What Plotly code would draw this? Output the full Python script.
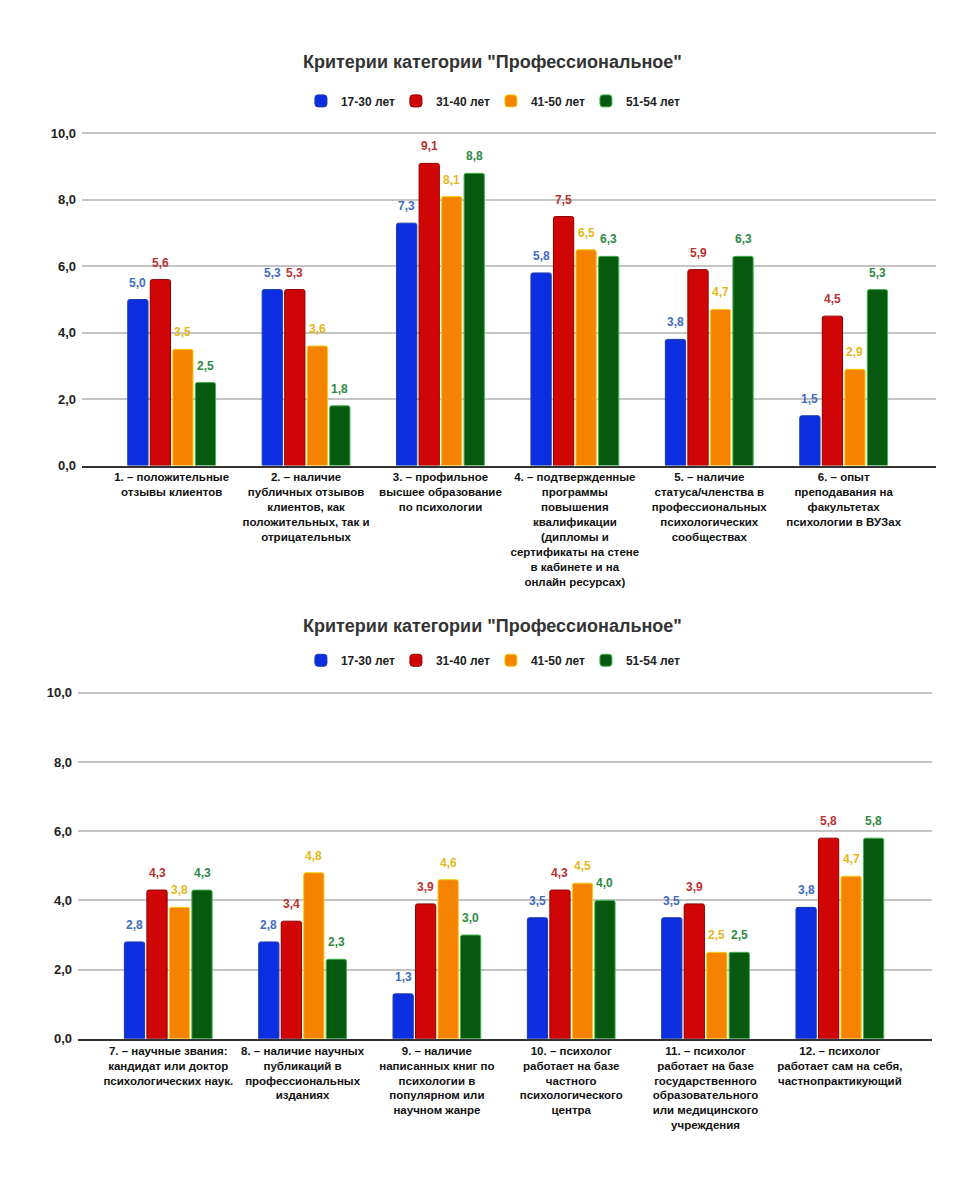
import plotly.graph_objects as go

# ---------------- data ----------------
title_text = 'Критерии категории "Профессиональное"'
series_names = ["17-30 лет", "31-40 лет", "41-50 лет", "51-54 лет"]

categories_top = [
    "1. – положительные<br>отзывы клиентов",
    "2. – наличие<br>публичных отзывов<br>клиентов, как<br>положительных, так и<br>отрицательных",
    "3. – профильное<br>высшее образование<br>по психологии",
    "4. – подтвержденные<br>программы<br>повышения<br>квалификации<br>(дипломы и<br>сертификаты на стене<br>в кабинете и на<br>онлайн ресурсах)",
    "5. – наличие<br>статуса/членства в<br>профессиональных<br>психологических<br>сообществах",
    "6. – опыт<br>преподавания на<br>факультетах<br>психологии в ВУЗах",
]
categories_bottom = [
    "7. – научные звания:<br>кандидат или доктор<br>психологических наук.",
    "8. – наличие научных<br>публикаций в<br>профессиональных<br>изданиях",
    "9. – наличие<br>написанных книг по<br>психологии в<br>популярном или<br>научном жанре",
    "10. – психолог<br>работает на базе<br>частного<br>психологического<br>центра",
    "11. – психолог<br>работает на базе<br>государственного<br>образовательного<br>или медицинского<br>учреждения",
    "12. – психолог<br>работает сам на себя,<br>частнопрактикующий",
]

top_17_30 = [5.0, 5.3, 7.3, 5.8, 3.8, 1.5]
top_31_40 = [5.6, 5.3, 9.1, 7.5, 5.9, 4.5]
top_41_50 = [3.5, 3.6, 8.1, 6.5, 4.7, 2.9]
top_51_54 = [2.5, 1.8, 8.8, 6.3, 6.3, 5.3]

bot_17_30 = [2.8, 2.8, 1.3, 3.5, 3.5, 3.8]
bot_31_40 = [4.3, 3.4, 3.9, 4.3, 3.9, 5.8]
bot_41_50 = [3.8, 4.8, 4.6, 4.5, 2.5, 4.7]
bot_51_54 = [4.3, 2.3, 3.0, 4.0, 2.5, 5.8]

y_ticks = [0, 2, 4, 6, 8, 10]

# ---------------- style ----------------
W, H = 976, 1200
bar_colors = ["#0b2fe0", "#d00606", "#f58300", "#06590f"]
edge_colors = ["#1c3aa8", "#8e0000", "#f2cf10", "#3fb34c"]
label_colors = ["#3f6cbf", "#b83232", "#e3b81a", "#2e8a45"]
FONT = "Liberation Sans, Arial, sans-serif"
BARGAP = 0.33
GROUPGAP = 0.1
Y_TOP = 10.05  # a hair above 10 so the 10,0 gridline is drawn

panels = [
    dict(cats=categories_top, series=[top_17_30, top_31_40, top_41_50, top_51_54],
         px_x=(82, 936), px_y0=465, px_y10=129, xr=(-0.667, 5.687),
         title_y=57, legend_y=96, xa="x", ya="y", legend="legend"),
    dict(cats=categories_bottom, series=[bot_17_30, bot_31_40, bot_41_50, bot_51_54],
         px_x=(78, 932), px_y0=1045, px_y10=695, xr=(-0.672, 5.686),
         title_y=627, legend_y=662, xa="x2", ya="y2", legend="legend2"),
]

fig = go.Figure()
annotations = []
layout_axes = {}

for p in panels:
    span_px = p["px_x"][1] - p["px_x"][0]
    px_per_cat = span_px / (p["xr"][1] - p["xr"][0])
    slot = px_per_cat * (1 - BARGAP) / 4
    px_per_unit = (p["px_y0"] - p["px_y10"]) / 10.0
    top_px = p["px_y0"] - Y_TOP * px_per_unit
    for i, (name, vals) in enumerate(zip(series_names, p["series"])):
        fig.add_trace(go.Bar(
            x=p["cats"], y=vals, name=name,
            xaxis=p["xa"], yaxis=p["ya"], legend=p["legend"],
            marker=dict(color=bar_colors[i], line=dict(color=edge_colors[i], width=1),
                        cornerradius=2),
            hoverinfo="x+y",
        ))
        for c, v in zip(p["cats"], vals):
            annotations.append(dict(
                x=c, y=v, xref=p["xa"], yref=p["ya"],
                text=f"{v:.1f}".replace(".", ","), showarrow=False,
                yanchor="bottom", xanchor="center",
                xshift=(i - 1.5) * slot, yshift=8,
                font=dict(family=FONT, size=12, color=label_colors[i], weight="bold"),
            ))
    annotations.append(dict(
        x=0.505, y=1 - p["title_y"] / H, xref="paper", yref="paper",
        text=title_text, showarrow=False, xanchor="center", yanchor="middle",
        font=dict(family=FONT, size=18, color="#333333", weight="bold"),
    ))
    xname = "xaxis" if p["xa"] == "x" else "xaxis2"
    yname = "yaxis" if p["ya"] == "y" else "yaxis2"
    layout_axes[xname] = dict(
        domain=[p["px_x"][0] / W, p["px_x"][1] / W],
        anchor=p["ya"], type="category", range=list(p["xr"]),
        showgrid=False, showline=True, linecolor="#333333", linewidth=2,
        tickfont=dict(family=FONT, size=11.5, color="#111111", weight="bold"),
        ticks="", fixedrange=True,
    )
    layout_axes[yname] = dict(
        domain=[1 - p["px_y0"] / H, 1 - top_px / H],
        anchor=p["xa"], range=[0, Y_TOP], tickvals=y_ticks,
        ticktext=[f"{t:.1f}".replace(".", ",") for t in y_ticks],
        showgrid=True, gridcolor="#c4c4c4", gridwidth=1.5, zeroline=False,
        tickfont=dict(family=FONT, size=13, color="#222222", weight="bold"),
        ticks="", ticklabelstandoff=5, fixedrange=True,
    )
    layout_axes[p["legend"]] = dict(
        orientation="h", x=0.503, xanchor="center", y=1 - p["legend_y"] / H,
        yanchor="middle", font=dict(family=FONT, size=12, color="#222222", weight="bold"),
        bgcolor="rgba(0,0,0,0)", itemwidth=30, entrywidth=50, entrywidthmode="pixels",
    )

fig.update_layout(
    width=W, height=H, margin=dict(l=0, r=0, t=0, b=0),
    paper_bgcolor="white", plot_bgcolor="white",
    barmode="group", bargap=BARGAP, bargroupgap=GROUPGAP,
    annotations=annotations, showlegend=True,
    font=dict(family=FONT),
    **layout_axes,
)

fig.write_html("out.html", config={"displayModeBar": False},
               post_script="document.body.style.margin='0';document.body.style.overflow='hidden';")
